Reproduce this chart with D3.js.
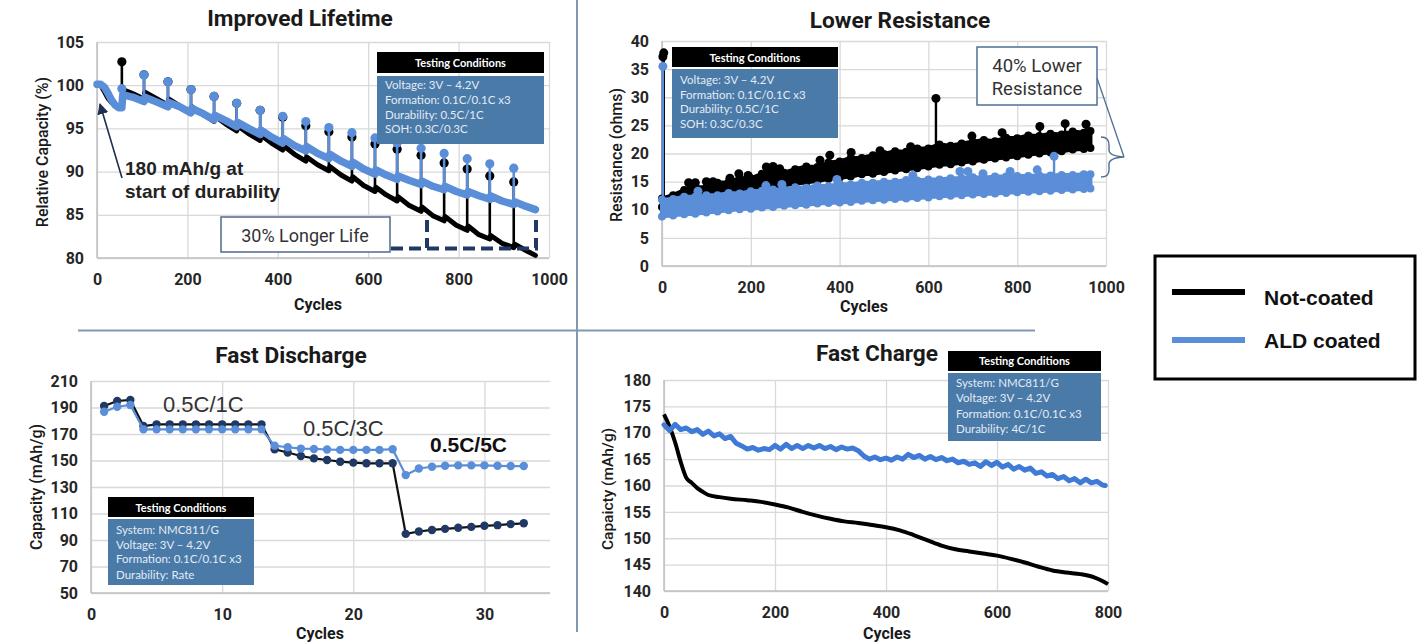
<!DOCTYPE html>
<html><head><meta charset="utf-8">
<script src="https://cdn.jsdelivr.net/npm/d3@7"></script>
<style>body{margin:0;background:#fff;} svg{display:block}</style>
</head><body>
<script>
// ---------- DATA ----------
// Panel 1: Improved Lifetime
const lifeXTicks=[0,200,400,600,800,1000];
const lifeYTicks=[80,85,90,95,100,105];
const lifeBlackLine=[[0,100.0],[8,100.0],[16,99.3],[24,98.5],[32,98.0],[40,97.7],[48,97.6],[55,97.6],[57,99.5],[80,99.0],[104,98.4],[106,99.2],[130,98.5],[157,97.7],[159,98.4],[183,97.6],[208,96.8],[210,97.5],[235,96.6],[259,95.8],[261,96.4],[285,95.5],[309,94.7],[311,95.3],[335,94.4],[361,93.6],[363,94.2],[386,93.3],[411,92.5],[413,93.0],[437,92.0],[462,91.2],[464,91.7],[488,90.8],[513,90.1],[515,90.6],[540,89.6],[564,88.9],[566,89.4],[590,88.4],[615,87.7],[617,88.2],[640,87.3],[664,86.6],[666,87.1],[690,86.1],[717,85.4],[719,85.9],[743,84.9],[768,84.3],[770,84.8],[795,83.8],[819,83.2],[821,83.7],[845,82.7],[869,82.2],[871,82.6],[896,81.7],[922,81.2],[924,81.6],[948,80.9],[970,80.3]];
const lifeBlackSpikes=[[55,97.6,102.7],[104,98.4,101.2],[157,97.7,100.4],[208,96.8,99.5],[259,95.8,98.7],[309,94.7,97.9],[361,93.6,97.1],[411,92.5,96.3],[462,91.2,95.3],[513,90.1,94.6],[564,88.9,94.0],[615,87.7,93.2],[664,86.6,92.6],[717,85.4,91.9],[768,84.3,91.0],[819,83.2,90.3],[869,82.2,89.5],[922,81.2,88.8]];
const lifeBlueLine=[[0,100.1],[8,100.1],[16,99.8],[24,99.1],[32,98.3],[40,97.7],[48,97.4],[55,97.4],[57,98.9],[80,98.6],[104,98.1],[106,98.6],[130,98.1],[157,97.5],[159,98.0],[183,97.5],[208,96.8],[210,97.3],[235,96.7],[259,96.0],[261,96.5],[285,95.9],[309,95.2],[311,95.7],[335,95.0],[361,94.3],[363,94.8],[386,94.0],[411,93.3],[413,93.8],[437,93.0],[462,92.4],[464,92.9],[488,92.1],[513,91.5],[515,92.0],[540,91.2],[564,90.6],[566,91.1],[590,90.3],[615,89.7],[617,90.2],[640,89.6],[664,89.1],[666,89.5],[690,89.0],[717,88.5],[719,88.9],[743,88.3],[768,87.9],[770,88.3],[795,87.7],[819,87.3],[821,87.7],[845,87.2],[869,86.8],[871,87.2],[896,86.6],[922,86.2],[924,86.5],[948,86.0],[970,85.6]];
const lifeBlueSpikes=[[55,97.4,99.6],[104,98.1,101.2],[157,97.5,100.4],[208,96.8,99.5],[259,96.0,98.7],[309,95.2,97.9],[361,94.3,97.1],[411,93.3,96.4],[462,92.4,95.8],[513,91.5,95.1],[564,90.6,94.5],[615,89.7,93.9],[664,89.1,93.3],[717,88.5,92.7],[768,87.9,92.1],[819,87.3,91.5],[869,86.8,90.9],[922,86.2,90.4]];

// Panel 2: Lower Resistance  [cycle, lower, upper]
const resXTicks=[0,200,400,600,800,1000];
const resYTicks=[0,5,10,15,20,25,30,35,40];
const resBlackBand=[[0,10.5,12.0],[25,11.0,12.6],[50,11.5,13.5],[75,11.9,14.0],[100,12.2,14.0],[125,12.4,14.8],[150,12.9,14.9],[175,13.1,15.6],[200,13.5,15.6],[225,13.8,16.4],[250,14.0,16.8],[275,14.4,16.6],[300,14.6,17.2],[325,14.9,17.7],[350,15.1,17.6],[375,15.5,18.4],[400,15.7,18.6],[425,15.9,19.2],[450,16.3,19.2],[475,16.4,19.7],[500,16.7,19.9],[525,17.0,20.4],[550,17.2,20.3],[575,17.4,20.9],[600,17.7,20.9],[625,18.0,21.6],[650,18.1,21.4],[675,18.4,21.8],[700,18.6,22.1],[725,18.9,22.4],[750,19.1,22.2],[775,19.3,22.8],[800,19.5,22.7],[825,19.8,23.2],[850,20.0,23.1],[875,20.2,23.5],[900,20.4,23.4],[925,20.7,23.9],[950,20.8,23.7],[965,21.0,24.0]];
const resBlueBand=[[0,8.8,11.8],[25,9.0,11.9],[50,9.2,12.3],[75,9.3,12.3],[100,9.5,12.6],[125,9.7,12.6],[150,9.9,13.0],[175,10.1,12.9],[200,10.2,13.3],[225,10.4,13.4],[250,10.5,13.6],[275,10.7,13.6],[300,10.8,14.0],[325,10.9,13.9],[350,11.1,14.3],[375,11.2,14.2],[400,11.3,14.6],[425,11.4,14.5],[450,11.6,14.8],[475,11.7,14.8],[500,11.8,15.0],[525,11.9,15.0],[550,12.0,15.3],[575,12.1,15.2],[600,12.2,15.4],[625,12.4,15.4],[650,12.5,15.6],[675,12.6,15.6],[700,12.7,15.8],[725,12.8,15.7],[750,12.9,15.9],[775,13.0,15.9],[800,13.1,16.0],[825,13.2,16.0],[850,13.3,16.1],[875,13.4,16.1],[900,13.5,16.2],[925,13.6,16.2],[950,13.7,16.3],[965,13.8,16.3]];
const resBlackSpikes=[[2,11.5,37.2],[4,11.5,37.9],[60,13.3,14.8],[75,13.5,14.8],[100,14.0,15.0],[115,14.3,15.0],[153,14.8,15.6],[173,15.2,16.4],[194,15.6,16.1],[235,16.5,17.6],[250,16.7,17.7],[265,16.9,17.3],[356,18.1,18.8],[378,18.4,19.7],[426,19.0,20.2],[491,19.9,20.5],[560,20.5,21.2],[617,21.1,29.8],[698,22.0,23.1],[766,22.5,23.7],[851,23.1,24.8],[908,23.5,25.3],[955,23.8,25.2]];
const resBlueSpikes=[[2,10.5,35.5],[81,12.3,13.3],[234,13.2,14.3],[270,13.4,14.5],[394,14.3,15.4],[565,15.0,16.1],[671,15.5,16.8],[689,15.6,16.8],[723,15.7,16.4],[784,15.9,16.8],[845,16.0,17.1],[883,16.1,19.5]];

// Panel 3: Fast Discharge
const fdXTicks=[0,10,20,30];
const fdYTicks=[50,70,90,110,130,150,170,190,210];
const fdCycles=[1,2,3,4,5,6,7,8,9,10,11,12,13,14,15,16,17,18,19,20,21,22,23,24,25,26,27,28,29,30,31,32,33];
const fdNotCoated=[191.1,194.9,195.7,176.0,177.3,177.3,177.3,177.3,177.3,177.3,177.3,177.3,177.3,158.4,156.0,153.4,151.6,150.4,149.1,148.4,147.9,147.9,147.9,94.6,96.4,97.6,98.4,99.2,99.9,100.7,101.2,102.0,102.6];
const fdCoated=[186.8,190.6,191.9,173.5,173.5,173.5,173.5,173.5,173.5,173.5,173.5,173.5,173.5,161.2,160.0,159.0,158.7,158.3,158.0,158.0,158.0,158.0,158.5,139.0,144.0,145.3,146.0,146.3,146.3,146.3,146.0,145.8,145.8];

// Panel 4: Fast Charge
const fcXTicks=[0,200,400,600,800];
const fcYTicks=[140,145,150,155,160,165,170,175,180];
const fcNotCoated=[[0,173.5],[10,171.2],[20,168.2],[30,164.5],[40,161.5],[50,160.5],[60,159.5],[70,158.8],[80,158.2],[100,157.8],[120,157.5],[150,157.2],[175,156.9],[200,156.4],[225,155.8],[250,155.0],[275,154.3],[300,153.7],[325,153.2],[350,152.9],[375,152.5],[400,152.1],[425,151.5],[450,150.6],[475,149.6],[500,148.6],[525,147.9],[550,147.5],[575,147.1],[600,146.7],[625,146.1],[650,145.4],[675,144.6],[700,143.9],[725,143.5],[750,143.2],[775,142.6],[790,141.9],[800,141.3]];
const fcCoated=[[0,171.5],[10,170.4],[20,171.6],[30,170.6],[40,170.9],[50,170.2],[60,170.6],[70,169.7],[80,170.3],[90,169.4],[100,169.8],[110,168.9],[120,169.3],[130,168.0],[140,167.5],[150,166.9],[160,167.2],[170,166.7],[180,167.0],[190,166.8],[200,167.6],[210,166.9],[220,167.8],[230,167.0],[240,167.6],[250,167.0],[260,167.6],[270,167.1],[280,167.6],[290,167.0],[300,167.4],[310,166.8],[320,167.3],[330,166.9],[340,167.1],[350,166.6],[360,165.6],[370,165.0],[380,165.4],[390,164.9],[400,165.2],[410,164.8],[420,165.4],[430,165.0],[440,165.9],[450,165.3],[460,165.7],[470,165.0],[480,165.5],[490,164.9],[500,165.3],[510,164.7],[520,165.0],[530,164.3],[540,164.6],[550,164.0],[560,164.3],[570,163.6],[580,164.5],[590,163.8],[600,164.4],[610,163.5],[620,164.0],[630,163.1],[640,163.6],[650,162.9],[660,163.3],[670,162.3],[680,162.6],[690,161.8],[700,162.1],[710,161.3],[720,161.7],[730,160.9],[740,161.3],[750,160.5],[760,161.2],[770,160.5],[780,160.8],[790,160.1],[795,160.0]];

const legendLabels=["Not-coated","ALD coated"];
const tc1=["Voltage: 3V \u2013 4.2V","Formation: 0.1C/0.1C x3","Durability: 0.5C/1C","SOH: 0.3C/0.3C"];
const tc2=["Voltage: 3V \u2013 4.2V","Formation: 0.1C/0.1C x3","Durability: 0.5C/1C","SOH: 0.3C/0.3C"];
const tc3=["System: NMC811/G","Voltage: 3V \u2013 4.2V","Formation: 0.1C/0.1C x3","Durability: Rate"];
const tc4=["System: NMC811/G","Voltage: 3V \u2013 4.2V","Formation: 0.1C/0.1C x3","Durability: 4C/1C"];

// ---------- STYLE ----------
const BLACK="#000000", BLUE="#5b8ed8", NAVY="#1f3864", FCBLUE="#3f7bd6";
const svg=d3.select('body').append('svg').attr('width',1426).attr('height',643);

function makePanel(p){
  const x=d3.scaleLinear().domain(p.xd).range([p.l,p.r]);
  const y=d3.scaleLinear().domain(p.yd).range([p.b,p.t]);
  const g=svg.append('g');
  const styleAxis=a=>{a.select('.domain').remove();
    a.selectAll('line').attr('stroke','#d9d9d9').attr('stroke-width',1.3);
    a.selectAll('text').attr('font-family','Roboto').attr('font-weight',700).attr('font-size',16).attr('fill','#262626');};
  g.append('g').attr('transform',`translate(${p.l},0)`)
   .call(d3.axisLeft(y).tickValues(p.yt).tickSize(-(p.r-p.l)).tickPadding(13).tickFormat(d3.format('d'))).call(styleAxis);
  g.append('g').attr('transform',`translate(0,${p.b})`)
   .call(d3.axisBottom(x).tickValues(p.xt).tickSize(-(p.b-p.t)).tickPadding(16).tickFormat(d3.format('d'))).call(styleAxis);
  g.append('line').attr('x1',p.l).attr('x2',p.l).attr('y1',p.t).attr('y2',p.b).attr('stroke','#bfbfbf').attr('stroke-width',1.5);
  g.append('line').attr('x1',p.l).attr('x2',p.r).attr('y1',p.b).attr('y2',p.b).attr('stroke','#bfbfbf').attr('stroke-width',1.5);
  svg.append('text').attr('x',p.titleX).attr('y',p.titleY).attr('text-anchor','middle')
    .attr('font-family','Roboto').attr('font-weight',700).attr('font-size',22.7).attr('fill','#1a1a1a').text(p.title);
  svg.append('text').attr('x',p.xtX).attr('y',p.xtY).attr('text-anchor','middle')
    .attr('font-family','Roboto').attr('font-weight',700).attr('font-size',16).attr('fill','#1a1a1a').text('Cycles');
  svg.append('text').attr('transform',`translate(${p.ytX},${p.ytY}) rotate(-90)`).attr('text-anchor','middle')
    .attr('dominant-baseline','central').attr('font-family','Roboto').attr('font-weight',500).attr('font-size',p.ytSize)
    .attr('fill','#1a1a1a').text(p.ytitle);
  return {x,y,g};
}

function testing(x0,w,hy,hh,by,bh,lines,hBase,baselines){
  svg.append('rect').attr('x',x0).attr('y',hy).attr('width',w).attr('height',hh).attr('fill','#000');
  svg.append('text').attr('x',x0+w/2).attr('y',hBase).attr('text-anchor','middle').attr('font-family','Lato, "Open Sans", sans-serif')
    .attr('font-weight',700).attr('font-size',11).attr('fill','#ffffff').text('Testing Conditions');
  svg.append('rect').attr('x',x0).attr('y',by).attr('width',w).attr('height',bh).attr('fill','#4a7aa8');
  lines.forEach((t,i)=>svg.append('text').attr('x',x0+8).attr('y',baselines[i]).attr('font-family','Lato, "Open Sans", sans-serif')
    .attr('font-size',11.5).attr('fill','#e3ebf5').text(t));
}

// ---------- PANEL 1 ----------
{
  const P=makePanel({l:97,r:549,t:42,b:258,xd:[0,1000],yd:[80,105],xt:lifeXTicks,yt:lifeYTicks,
    title:'Improved Lifetime',titleX:300,titleY:26,xtX:318,xtY:310,ytX:42,ytY:152,ytSize:16,ytitle:'Relative Capacity  (%)'});
  const line=d3.line().x(d=>P.x(d[0])).y(d=>P.y(d[1]));
  const drawSeries=(data,spikes,color,lw)=>{
    P.g.append('path').datum(data).attr('d',line).attr('fill','none').attr('stroke',color).attr('stroke-width',lw)
      .attr('stroke-linejoin','round').attr('stroke-linecap','round');
    P.g.selectAll(null).data(spikes).enter().append('line').attr('x1',d=>P.x(d[0])).attr('x2',d=>P.x(d[0]))
      .attr('y1',d=>P.y(d[1])).attr('y2',d=>P.y(d[2])).attr('stroke',color).attr('stroke-width',2.6);
    P.g.selectAll(null).data(spikes).enter().append('circle').attr('cx',d=>P.x(d[0])).attr('cy',d=>P.y(d[2])).attr('r',4.6).attr('fill',color);
  };
  drawSeries(lifeBlackLine,lifeBlackSpikes,BLACK,5);
  drawSeries(lifeBlueLine,lifeBlueSpikes,BLUE,7.5);
  svg.append('defs').append('marker').attr('id','arr').attr('viewBox','0 0 10 10').attr('refX',9).attr('refY',5)
    .attr('markerWidth',7).attr('markerHeight',7).attr('orient','auto')
    .append('path').attr('d','M0,0 L10,5 L0,10 z').attr('fill','#1f2f50');
  svg.append('line').attr('x1',122).attr('y1',178).attr('x2',100).attr('y2',104).attr('stroke','#1f2f50').attr('stroke-width',1.6).attr('marker-end','url(#arr)');
  svg.append('text').attr('x',125).attr('y',175).attr('font-family','"Liberation Sans", Arial, sans-serif').attr('font-weight',700).attr('font-size',19).attr('fill','#222').text('180 mAh/g at');
  svg.append('text').attr('x',125).attr('y',198).attr('font-family','"Liberation Sans", Arial, sans-serif').attr('font-weight',700).attr('font-size',19).attr('fill','#222').text('start of durability');
  svg.append('rect').attr('x',221).attr('y',217).attr('width',169).attr('height',35).attr('fill','#fff').attr('stroke','#4f6b8a').attr('stroke-width',1.5);
  svg.append('text').attr('x',305).attr('y',242).attr('text-anchor','middle').attr('font-family','Roboto').attr('font-size',18).attr('fill','#333').text('30% Longer Life');
  const dash=svg.append('g').attr('stroke',NAVY).attr('stroke-width',4).attr('stroke-dasharray','12 6').attr('fill','none');
  dash.append('path').attr('d','M391,248.5 H538');
  dash.append('path').attr('d','M427,220 V248');
  dash.append('path').attr('d','M536,220 V248');
  testing(377,167,52,21,76,68,tc1,67,[89,104,119,133]);
}

// ---------- PANEL 2 ----------
{
  const P=makePanel({l:662,r:1106,t:41,b:266,xd:[0,1000],yd:[0,40],xt:resXTicks,yt:resYTicks,
    title:'Lower Resistance',titleX:900,titleY:28,xtX:864,xtY:312,ytX:616,ytY:155,ytSize:16,ytitle:'Resistance (ohms)'});
  const area=d3.area().x(d=>P.x(d[0])).y0(d=>P.y(d[1])).y1(d=>P.y(d[2]));
  const drawBand=(band,spikes,color)=>{
    P.g.append('path').datum(band).attr('d',area).attr('fill',color).attr('stroke',color).attr('stroke-width',4).attr('stroke-linejoin','round');
    P.g.selectAll(null).data(band).enter().append('circle').attr('cx',d=>P.x(d[0])).attr('cy',d=>P.y(d[2])).attr('r',4).attr('fill',color);
    P.g.selectAll(null).data(band).enter().append('circle').attr('cx',d=>P.x(d[0])).attr('cy',d=>P.y(d[1])).attr('r',4).attr('fill',color);
    P.g.selectAll(null).data(spikes).enter().append('line').attr('x1',d=>P.x(d[0])).attr('x2',d=>P.x(d[0]))
      .attr('y1',d=>P.y(d[1])).attr('y2',d=>P.y(d[2])).attr('stroke',color).attr('stroke-width',2.4);
    P.g.selectAll(null).data(spikes).enter().append('circle').attr('cx',d=>P.x(d[0])).attr('cy',d=>P.y(d[2])).attr('r',4.5).attr('fill',color);
  };
  drawBand(resBlackBand,resBlackSpikes,BLACK);
  drawBand(resBlueBand,resBlueSpikes,BLUE);
  svg.append('rect').attr('x',977).attr('y',47).attr('width',120).attr('height',58).attr('fill','#fff').attr('stroke','#4f6f94').attr('stroke-width',1.5);
  svg.append('text').attr('x',1037).attr('y',72).attr('text-anchor','middle').attr('font-family','Roboto').attr('font-size',18.5).attr('fill','#333').text('40% Lower');
  svg.append('text').attr('x',1037).attr('y',95).attr('text-anchor','middle').attr('font-family','Roboto').attr('font-size',18.5).attr('fill','#333').text('Resistance');
  svg.append('path').attr('d','M1097,78 L1124,157').attr('stroke','#4f6f94').attr('stroke-width',1.3).attr('fill','none');
  svg.append('path').attr('d','M1101,137 Q1109,137 1109,145 L1109,150 Q1109,156 1124,157 Q1109,158 1109,164 L1109,170 Q1109,177 1101,177')
    .attr('stroke','#4f6f94').attr('stroke-width',1.4).attr('fill','none');
  testing(672,166,47,20,69,69,tc2,62,[84,99,113,128]);
}

// ---------- PANEL 3 ----------
{
  const P=makePanel({l:91,r:550,t:381,b:593,xd:[0,35],yd:[50,210],xt:fdXTicks,yt:fdYTicks,
    title:'Fast Discharge',titleX:291,titleY:363,xtX:320,xtY:639,ytX:36,ytY:487,ytSize:16,ytitle:'Capacity (mAh/g)'});
  const drawS=(vals,lineColor,dotColor)=>{
    const pts=fdCycles.map((c,i)=>[c,vals[i]]);
    P.g.append('path').datum(pts).attr('d',d3.line().x(d=>P.x(d[0])).y(d=>P.y(d[1]))).attr('fill','none').attr('stroke',lineColor).attr('stroke-width',2.2);
    P.g.selectAll(null).data(pts).enter().append('circle').attr('cx',d=>P.x(d[0])).attr('cy',d=>P.y(d[1])).attr('r',4.2).attr('fill',dotColor);
  };
  drawS(fdNotCoated,'#111111',NAVY);
  drawS(fdCoated,BLUE,BLUE);
  svg.append('text').attr('x',163).attr('y',412).attr('font-family','"Liberation Sans", Arial, sans-serif').attr('font-size',22).attr('fill','#333').text('0.5C/1C');
  svg.append('text').attr('x',303).attr('y',436).attr('font-family','"Liberation Sans", Arial, sans-serif').attr('font-size',22).attr('fill','#333').text('0.5C/3C');
  svg.append('text').attr('x',430).attr('y',452).attr('font-family','"Liberation Sans", Arial, sans-serif').attr('font-weight',700).attr('font-size',21).attr('fill','#111').text('0.5C/5C');
  testing(108,146,497,20,519,66,tc3,512,[534,549,563,579]);
}

// ---------- PANEL 4 ----------
{
  const P=makePanel({l:664,r:1108,t:380,b:591,xd:[0,800],yd:[140,180],xt:fcXTicks,yt:fcYTicks,
    title:'Fast Charge',titleX:877,titleY:361,xtX:887,xtY:639,ytX:608,ytY:489,ytSize:15.5,ytitle:'Capaicty (mAh/g)'});
  const line=d3.line().x(d=>P.x(d[0])).y(d=>P.y(d[1])).curve(d3.curveMonotoneX);
  P.g.append('path').datum(fcNotCoated).attr('d',line).attr('fill','none').attr('stroke',BLACK).attr('stroke-width',4).attr('stroke-linejoin','round');
  P.g.append('path').datum(fcCoated).attr('d',d3.line().x(d=>P.x(d[0])).y(d=>P.y(d[1]))).attr('fill','none').attr('stroke',FCBLUE).attr('stroke-width',5).attr('stroke-linejoin','round').attr('stroke-linecap','round');
  testing(948,153,351,20,373,68,tc4,365,[387,402,418,433]);
}

// ---------- DIVIDERS ----------
svg.append('line').attr('x1',577).attr('x2',577).attr('y1',0).attr('y2',632).attr('stroke','#8497b0').attr('stroke-width',2);
svg.append('line').attr('x1',78).attr('x2',1035).attr('y1',330.5).attr('y2',330.5).attr('stroke','#8497b0').attr('stroke-width',2);

// ---------- LEGEND ----------
{
  const lg=svg.append('g');
  lg.append('rect').attr('x',1155).attr('y',256).attr('width',260).attr('height',123).attr('fill','#fff').attr('stroke','#000').attr('stroke-width',3);
  const cols=[BLACK,BLUE], ys=[292,340], tys=[305,348];
  legendLabels.forEach((t,i)=>{
    lg.append('line').attr('x1',1172).attr('x2',1245).attr('y1',ys[i]).attr('y2',ys[i]).attr('stroke',cols[i]).attr('stroke-width',6);
    lg.append('text').attr('x',1264).attr('y',tys[i]).attr('font-family','"Liberation Sans", Arial, sans-serif').attr('font-weight',700).attr('font-size',21).attr('fill','#111').text(t);
  });
}
</script>
</body></html>
